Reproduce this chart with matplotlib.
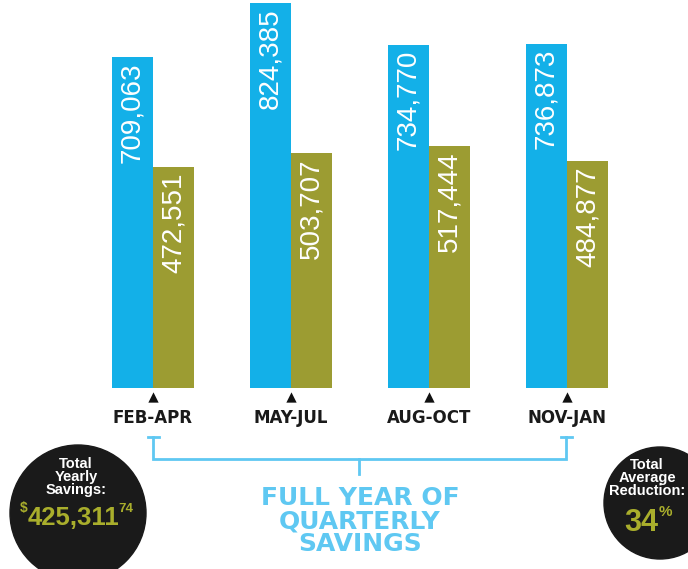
import matplotlib.pyplot as plt
import numpy as np
from matplotlib.patches import Circle

quarters = ["FEB-APR", "MAY-JUL", "AUG-OCT", "NOV-JAN"]
before = [709063, 824385, 734770, 736873]
after = [472551, 503707, 517444, 484877]
yearly_savings = "425,311"
yearly_cents = "74"
avg_reduction = "34"

BLUE = "#13b0e8"
OLIVE = "#9c9c32"
LIGHT = "#5fc8f2"
TEXT_OLIVE = "#a9ae2c"
SANS = "Liberation Sans"

fig = plt.figure(figsize=(6.88, 5.69), dpi=100)
W, H = 688, 569

# bar area in pixel terms: groups every 138px starting at 153, baseline at y=388
ax = fig.add_axes([84 / W, 1 - 388 / H, 552 / W, 388 / H])
x = np.arange(len(quarters))
width = 0.297
ax.bar(x - width / 2, before, width, color=BLUE, align="center")
ax.bar(x + width / 2, after, width, color=OLIVE, align="center")
ax.set_xlim(-0.5, 3.5)
ax.set_ylim(0, 830000)

for i in range(len(quarters)):
    for xx, v in ((x[i] - width / 2, before[i]), (x[i] + width / 2, after[i])):
        ax.annotate(f"{v:,}", (xx, v), xytext=(0, -4), textcoords="offset points",
                    rotation=90, ha="center", va="top", color="white",
                    fontsize=20, family=SANS)

ax.set_xticks(x)
ax.set_xticklabels(quarters, fontsize=12, fontweight="bold", family="DejaVu Sans",
                   color="#1a1a1a")
ax.tick_params(axis="x", length=0, pad=15)
ax.set_yticks([])
for s in ax.spines.values():
    s.set_visible(False)
ax.scatter(x, [-0.024] * len(x), marker="^", s=55, color="#111111",
           transform=ax.get_xaxis_transform(), clip_on=False, linewidths=0)

# overlay in pixel coordinates for the decorations
ov = fig.add_axes([0, 0, 1, 1])
ov.set_xlim(0, W)
ov.set_ylim(H, 0)
ov.axis("off")

lw = 2
ov.plot([153, 153, 566, 566], [437, 459, 459, 437], color=LIGHT, lw=lw,
        solid_joinstyle="miter")
ov.plot([148, 159], [437, 437], color=LIGHT, lw=lw)
ov.plot([561, 572], [437, 437], color=LIGHT, lw=lw)
ov.plot([359, 359], [459, 474], color=LIGHT, lw=lw)
ov.text(360, 521, "FULL YEAR OF\nQUARTERLY\nSAVINGS", ha="center", va="center",
        color=LIGHT, fontsize=18, fontweight="bold", family="DejaVu Sans",
        linespacing=0.93)

ov.add_patch(Circle((78, 513), 68, color="#1a1a1a", zorder=1))
ov.text(76, 477, "Total\nYearly\nSavings:", ha="center", va="center", color="white",
        fontsize=10.5, fontweight="bold", family=SANS, linespacing=0.88)
ov.text(28, 512, "$", ha="right", va="baseline", color=TEXT_OLIVE,
        fontsize=10, fontweight="bold", family=SANS)
ov.text(73, 525, yearly_savings, ha="center", va="baseline", color=TEXT_OLIVE,
        fontsize=18.5, fontweight="bold", family=SANS)
ov.text(118, 512, yearly_cents, ha="left", va="baseline", color=TEXT_OLIVE,
        fontsize=9.5, fontweight="bold", family=SANS)

ov.add_patch(Circle((660, 503), 56, color="#1a1a1a", zorder=1))
ov.text(647, 478, "Total\nAverage\nReduction:", ha="center", va="center", color="white",
        fontsize=10.5, fontweight="bold", family=SANS, linespacing=0.88)
ov.text(641, 531, avg_reduction, ha="center", va="baseline", color=TEXT_OLIVE,
        fontsize=22, fontweight="bold", family=SANS)
ov.text(659, 516, "%", ha="left", va="baseline", color=TEXT_OLIVE,
        fontsize=11, fontweight="bold", family=SANS)

fig.savefig("out.png", dpi=100)
